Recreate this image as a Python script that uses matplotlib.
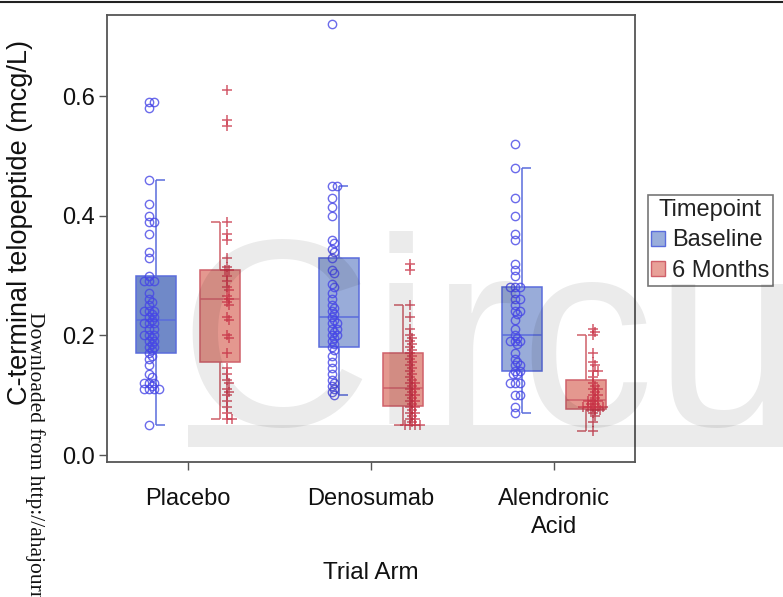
import matplotlib
matplotlib.use('Agg')
import matplotlib.pyplot as plt
from matplotlib.patches import Patch, Rectangle
from matplotlib.lines import Line2D
import numpy as np

plt.rcParams['font.family'] = ['Liberation Sans', 'DejaVu Sans']

arms = ['Placebo', 'Denosumab', 'Alendronic\nAcid']
timepoints = ['Baseline', '6 Months']

# individual values (mcg/L)
placebo_base = [0.59, 0.59, 0.58, 0.46, 0.42, 0.40, 0.39, 0.39, 0.37, 0.34, 0.33, 0.30,
                0.29, 0.29, 0.29, 0.27, 0.26, 0.255, 0.25, 0.24, 0.24, 0.24, 0.235, 0.23,
                0.23, 0.225, 0.22, 0.22, 0.22, 0.21, 0.21, 0.20, 0.20, 0.20, 0.195, 0.19,
                0.19, 0.185, 0.18, 0.18, 0.175, 0.17, 0.165, 0.16, 0.15, 0.135, 0.13,
                0.12, 0.12, 0.12, 0.115, 0.11, 0.11, 0.11, 0.11, 0.05]
placebo_6m = [0.61, 0.56, 0.55, 0.39, 0.37, 0.36, 0.33, 0.315, 0.31, 0.31, 0.30, 0.29,
              0.28, 0.275, 0.265, 0.26, 0.255, 0.25, 0.23, 0.225, 0.20, 0.195, 0.17,
              0.145, 0.135, 0.125, 0.12, 0.11, 0.105, 0.10, 0.09, 0.08, 0.07, 0.06, 0.06]
denosumab_base = [0.72, 0.45, 0.45, 0.43, 0.415, 0.40, 0.36, 0.355, 0.345, 0.34, 0.33,
                  0.31, 0.305, 0.285, 0.28, 0.27, 0.26, 0.25, 0.245, 0.24, 0.235, 0.23,
                  0.225, 0.22, 0.22, 0.21, 0.21, 0.205, 0.20, 0.20, 0.195, 0.19, 0.185,
                  0.18, 0.175, 0.165, 0.155, 0.145, 0.135, 0.125, 0.12, 0.115, 0.11,
                  0.105, 0.10]
denosumab_6m = [0.32, 0.31, 0.25, 0.23, 0.21, 0.20, 0.195, 0.19, 0.185, 0.18, 0.175,
                0.17, 0.165, 0.16, 0.155, 0.15, 0.145, 0.14, 0.135, 0.13, 0.125, 0.12,
                0.12, 0.115, 0.11, 0.11, 0.105, 0.10, 0.10, 0.095, 0.09, 0.09, 0.085,
                0.08, 0.08, 0.075, 0.07, 0.07, 0.065, 0.06, 0.06, 0.055, 0.05, 0.05,
                0.05, 0.05]
alendronic_base = [0.52, 0.48, 0.43, 0.40, 0.37, 0.36, 0.32, 0.31, 0.30, 0.28, 0.28,
                   0.28, 0.27, 0.26, 0.26, 0.25, 0.24, 0.24, 0.235, 0.225, 0.21, 0.20,
                   0.195, 0.19, 0.19, 0.19, 0.185, 0.17, 0.16, 0.155, 0.15, 0.15, 0.14,
                   0.14, 0.135, 0.135, 0.12, 0.12, 0.12, 0.10, 0.10, 0.08, 0.07]
alendronic_6m = [0.21, 0.205, 0.20, 0.17, 0.155, 0.15, 0.14, 0.14, 0.13, 0.12, 0.115,
                 0.11, 0.11, 0.105, 0.10, 0.10, 0.095, 0.09, 0.09, 0.09, 0.085, 0.085,
                 0.08, 0.08, 0.08, 0.08, 0.08, 0.075, 0.075, 0.075, 0.07, 0.065, 0.055,
                 0.04]

# box summaries as drawn: q1, median, q3, whisker low, whisker high
base_q1 = [0.17, 0.18, 0.14]
base_med = [0.225, 0.23, 0.20]
base_q3 = [0.30, 0.33, 0.28]
base_lo = [0.05, 0.10, 0.07]
base_hi = [0.46, 0.45, 0.48]
m6_q1 = [0.155, 0.082, 0.077]
m6_med = [0.26, 0.112, 0.092]
m6_q3 = [0.31, 0.17, 0.125]
m6_lo = [0.06, 0.05, 0.04]
m6_hi = [0.39, 0.25, 0.20]

base_pts = [placebo_base, denosumab_base, alendronic_base]
m6_pts = [placebo_6m, denosumab_6m, alendronic_6m]

blue_edge = '#5a6cdc'
red_edge = '#d0606a'
base_fill = ['#7089c8', '#99acd9', '#99acd9']
m6_fill = ['#e4988f', '#e4988f', '#e4988f']


def swarm(ax, vals, x0, d, step):
    # simple beeswarm in pixel space
    pix = ax.transData.transform(np.column_stack([np.full(len(vals), x0), vals]))
    placed = []
    for px, py in pix:
        k = 0
        while True:
            off = ((k + 1) // 2) * step * (1 if k % 2 else -1) if k else 0.0
            cx = px + off
            if all((cx - qx) ** 2 + (py - qy) ** 2 >= d * d for qx, qy in placed):
                break
            k += 1
        placed.append((cx, py))
    return ax.transData.inverted().transform(np.array(placed))


fig = plt.figure(figsize=(7.83, 5.97), dpi=100)
ax = fig.add_axes([0.1367, 0.2261, 0.6743, 0.7488])
ax.set_xlim(0.557, 3.443)
ax.set_ylim(-0.0117, 0.7354)

shift = 0.175
bw = 0.218
for i in range(3):
    x = i + 1
    groups = [(x - shift, base_q1[i], base_med[i], base_q3[i], base_lo[i], base_hi[i],
               base_fill[i], blue_edge, 1, base_pts[i]),
              (x + shift, m6_q1[i], m6_med[i], m6_q3[i], m6_lo[i], m6_hi[i],
               m6_fill[i], red_edge, -1, m6_pts[i])]
    for bc, q1, med, q3, lo, hi, fc, ec, side, pts in groups:
        ax.bar(bc, q3 - q1, bottom=q1, width=bw, color=fc, edgecolor=ec, lw=1.1, zorder=2)
        ax.hlines(med, bc - bw / 2, bc + bw / 2, color=ec, lw=1.1, zorder=2)
        ax.vlines(bc, q3, hi, color=ec, lw=1.1, zorder=2)
        ax.vlines(bc, lo, q1, color=ec, lw=1.1, zorder=2)
        ax.hlines([lo, hi], bc, bc + side * 0.05, color=ec, lw=1.1, zorder=2)
        xy = swarm(ax, sorted(pts, reverse=True), bc - side * 0.038, 3.6, 2.4)
        if side == 1:
            ax.plot(xy[:, 0], xy[:, 1], 'o', ms=6, mfc='none', mec='#4646e6',
                    mew=1.0, alpha=0.8, zorder=3)
        else:
            ax.plot(xy[:, 0], xy[:, 1], '+', ms=7.5, color='#c83246',
                    mew=1.1, alpha=0.8, zorder=3)

ax.set_xticks([1, 2, 3])
ax.set_xticklabels(arms, fontsize=17, linespacing=1.35)
ax.set_yticks([0.0, 0.2, 0.4, 0.6])
ax.set_yticklabels(['0.0', '0.2', '0.4', '0.6'], fontsize=17)
ax.tick_params(axis='both', length=6, width=1.0, color='#555555', labelcolor='#111111')
ax.tick_params(axis='x', pad=13)
ax.tick_params(axis='y', pad=3)
for s in ax.spines.values():
    s.set_color('#555555')
    s.set_linewidth(1.3)

ax.set_xlabel('Trial Arm', fontsize=17.5, labelpad=17, color='#111111')
ax.set_ylabel('C-terminal telopeptide (mcg/L)', fontsize=19.5, color='#111111')
ax.yaxis.set_label_coords(-0.14, 0.535)

handles = [Patch(facecolor='#9aaedb', edgecolor=blue_edge, lw=1),
           Patch(facecolor='#e8a098', edgecolor=red_edge, lw=1)]
leg = fig.legend(handles, timepoints, title='Timepoint', loc='upper left',
                 bbox_to_anchor=(0.827, 0.673), fontsize=17, title_fontsize=17,
                 fancybox=False, framealpha=1, edgecolor='#777777',
                 handlelength=0.6, handleheight=0.6, handletextpad=0.28,
                 borderpad=0.15, labelspacing=0.37, borderaxespad=0)
leg.get_frame().set_linewidth(1.2)
for t in leg.get_texts():
    t.set_color('#222222')
leg.get_title().set_color('#222222')

# page watermark and stamp
fig.text(178 / 783, 1 - 425 / 597, 'Circu', fontsize=193, color='black', alpha=0.08,
         ha='left', va='baseline', zorder=10)
fig.add_artist(Rectangle((188 / 783, 1 - 447 / 597), 1, 22 / 597, transform=fig.transFigure,
                         facecolor='black', alpha=0.08, edgecolor='none', zorder=10))
fig.text(35 / 783, 1 - 312 / 597, 'Downloaded from http://ahajournals.org/', rotation=-90,
         ha='center', va='top', fontsize=15.5, family=['Liberation Serif', 'DejaVu Serif'],
         color='#111111', zorder=11)
fig.add_artist(Line2D([0, 1], [1 - 2 / 597, 1 - 2 / 597], transform=fig.transFigure,
                      color='#222222', lw=1.5))

fig.savefig('out.png', dpi=100)
